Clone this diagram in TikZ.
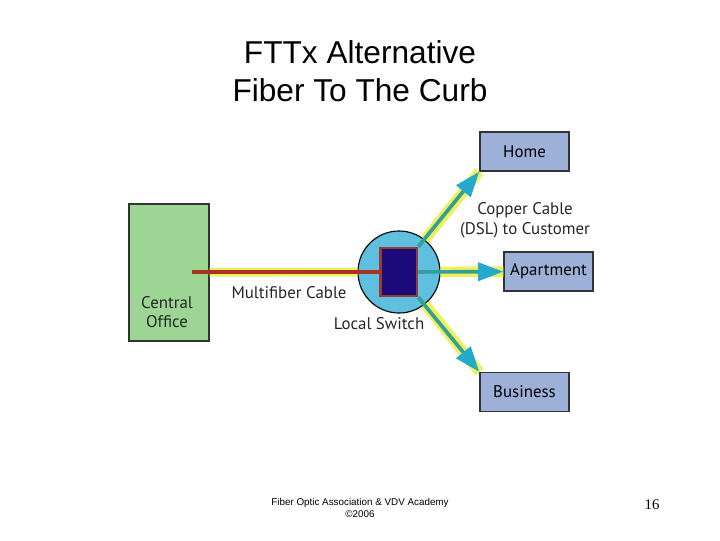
\documentclass[tikz,border=0pt]{standalone}
\usepackage{fontspec}
\setmainfont{Liberation Sans}
\newfontfamily\diagfont{PT Sans}
\newfontfamily\pagefont{Liberation Serif}
\usetikzlibrary{arrows.meta,positioning}

\definecolor{cogreen}{RGB}{157,214,148}
\definecolor{boxblue}{RGB}{157,176,216}
\definecolor{switchblue}{RGB}{94,192,222}
\definecolor{switchnavy}{RGB}{28,10,122}
\definecolor{switchred}{RGB}{150,58,58}
\definecolor{fiberred}{RGB}{170,50,30}
\definecolor{copperteal}{RGB}{50,160,150}
\definecolor{tipblue}{RGB}{35,170,205}
\definecolor{glowyellow}{RGB}{240,240,95}

\begin{document}
\begin{tikzpicture}[x=0.025cm, y=-0.025cm,
  >={Triangle[length=0.63cm,width=0.45cm,color=tipblue]},
  bldg/.style={draw=black!80, line width=1pt, fill=boxblue,
    minimum width=2.225cm, minimum height=0.975cm,
    font=\diagfont\fontsize{12}{14}\selectfont},
  txt/.style={font=\diagfont\fontsize{12}{14}\selectfont, align=center,
    text=black!85},
  glow/.style={draw=glowyellow, line width=7.5pt},
  copper/.style={draw=copperteal, line width=2.6pt, ->}]

\useasboundingbox (0,0) rectangle (720,540);

\node [align=center, font=\fontsize{22.5}{27}\selectfont] (title) at (360,71)
  {FTTx Alternative\\Fiber To The Curb};

\node [draw=black!80, line width=1pt, fill=cogreen, minimum width=2cm,
  minimum height=3.425cm] (co) at (169,272.5) {};
\node [txt] (colbl) at (167,312) {Central\\Office};
\coordinate (cofib) at (192,272);

\node [circle, draw=black, line width=0.8pt, fill=switchblue,
  minimum size=2.05cm] (sw) at (399,272) {};

\node [bldg] (home) at (524.5,151.5) {Home};
\node [bldg] (apt) at (548.5,271.5) {Apartment};
\node [bldg] (biz) at (524.5,392) {Business};

% cables
\path [glow, line width=6pt] (co) -- (sw);
\path [glow] (sw) -- (home.south west);
\path [glow] (sw) -- (apt);
\path [glow] (sw) -- (biz.north west);

\node [draw=switchred, line width=2pt, fill=switchnavy, inner sep=0pt,
  minimum width=0.92cm, minimum height=1.2cm] (sx) at (398.5,272) {};

\path [draw=fiberred, line width=2.4pt] (cofib) -- (sx.west);
\path [copper] (sx.north east) -- (home.south west);
\path [copper] (sx) -- (apt);
\path [copper] (sx.south east) -- (biz.north west);

\node [txt] (cable) at (289,293) {Multifiber Cable};
\node [txt] (swlbl) at (379,324) {Local Switch};
\node [txt] (dsl) at (525,220) {Copper Cable\\(DSL) to Customer};

\node [align=center, font=\fontsize{7}{8.5}\selectfont] (foot) at (360,508)
  {Fiber Optic Association \& VDV Academy\\©2006};
\node [font=\pagefont\fontsize{10.5}{12}\selectfont] (page) at (652,505) {16};

\end{tikzpicture}
\end{document}
